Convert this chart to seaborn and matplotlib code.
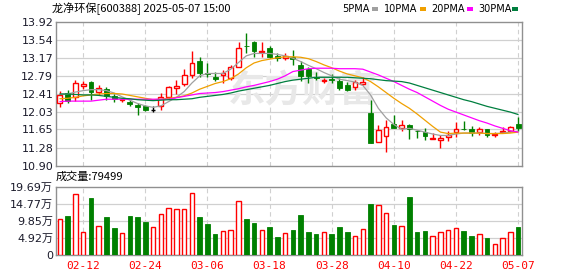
import numpy as np
import pandas as pd
import matplotlib
matplotlib.use("Agg")
import matplotlib.pyplot as plt
import seaborn as sns

# ---------------- data ----------------
dates = ["02-12", "02-24", "03-06", "03-18", "03-28", "04-10", "04-22", "05-07"]
date_idx = [3, 11, 19, 27, 35, 43, 51, 59]

opens = [12.208, 12.417, 12.327, 12.577, 12.654, 12.438, 12.494, 12.354, 12.278, 12.236,
         12.174, 12.153, 12.069, 12.153, 12.334, 12.528, 12.605, 12.793, 13.092, 12.835,
         12.758, 12.793, 12.730, 12.974, 13.410, 13.488, 13.273, 13.370, 13.203, 13.162,
         13.168, 13.008, 12.918, 12.751, 12.675, 12.716, 12.681, 12.591, 12.542, 12.612,
         12.000, 11.394, 11.520, 11.763, 11.680, 11.756, 11.631, 11.610, 11.464, 11.429,
         11.499, 11.603, 11.673, 11.673, 11.596, 11.673, 11.534, 11.610, 11.624, 11.777]
highs = [12.466, 12.480, 12.688, 12.675, 12.670, 12.584, 12.549, 12.403, 12.300, 12.278,
         12.208, 12.174, 12.139, 12.417, 12.570, 12.695, 12.925, 13.300, 13.175, 13.057,
         12.862, 12.904, 13.010, 13.488, 13.670, 13.510, 13.488, 13.405, 13.252, 13.252,
         13.320, 13.099, 12.974, 12.855, 12.730, 12.814, 12.730, 12.654, 12.695, 12.751,
         12.278, 11.750, 11.860, 11.960, 11.846, 11.777, 11.652, 11.680, 11.582, 11.534,
         11.617, 11.818, 11.840, 11.735, 11.707, 11.673, 11.603, 11.700, 11.735, 11.909]
lows = [12.118, 12.208, 12.257, 12.514, 12.278, 12.382, 12.264, 12.222, 12.222, 12.139,
        11.951, 12.034, 12.014, 12.069, 12.292, 12.403, 12.577, 12.730, 12.765, 12.765,
        12.675, 12.640, 12.695, 12.960, 13.252, 13.168, 13.180, 13.147, 13.099, 13.120,
        13.000, 12.675, 12.640, 12.695, 12.626, 12.626, 12.487, 12.452, 12.487, 12.584,
        11.373, 11.394, 11.180, 11.680, 11.617, 11.457, 11.478, 11.429, 11.464, 11.276,
        11.422, 11.499, 11.652, 11.513, 11.547, 11.499, 11.499, 11.590, 11.610, 11.631]
closes = [12.375, 12.250, 12.626, 12.612, 12.431, 12.535, 12.361, 12.292, 12.292, 12.180,
          12.118, 12.069, 12.069, 12.347, 12.542, 12.577, 12.800, 13.043, 12.848, 12.814,
          12.723, 12.835, 12.960, 13.356, 13.398, 13.300, 13.300, 13.168, 13.147, 13.196,
          13.127, 12.786, 12.786, 12.730, 12.695, 12.695, 12.535, 12.487, 12.654, 12.654,
          11.373, 11.645, 11.707, 11.680, 11.742, 11.673, 11.617, 11.513, 11.478, 11.485,
          11.547, 11.673, 11.659, 11.589, 11.673, 11.547, 11.561, 11.617, 11.714, 11.680]

ma5 = [12.39, 12.40, 12.44, 12.47, 12.49, 12.49, 12.47, 12.42, 12.34, 12.27,
       12.20, 12.15, 12.12, 12.15, 12.24, 12.33, 12.45, 12.63, 12.78, 12.83,
       12.83, 12.83, 12.92, 13.06, 13.20, 13.25, 13.25, 13.25, 13.23, 13.20,
       13.15, 13.08, 13.00, 12.93, 12.85, 12.78, 12.71, 12.68, 12.65, 12.58,
       12.38, 12.10, 11.90, 11.76, 11.66, 11.68, 11.64, 11.60, 11.56, 11.53,
       11.53, 11.56, 11.58, 11.58, 11.58, 11.57, 11.57, 11.58, 11.60, 11.62]
ma10 = [12.30, 12.31, 12.33, 12.36, 12.38, 12.40, 12.41, 12.41, 12.40, 12.37,
        12.34, 12.31, 12.28, 12.29, 12.31, 12.33, 12.36, 12.42, 12.50, 12.56,
        12.62, 12.66, 12.72, 12.82, 12.95, 13.05, 13.10, 13.13, 13.16, 13.18,
        13.18, 13.17, 13.14, 13.08, 13.01, 12.95, 12.88, 12.82, 12.78, 12.74,
        12.66, 12.55, 12.43, 12.31, 12.20, 12.10, 11.98, 11.85, 11.72, 11.60,
        11.57, 11.58, 11.58, 11.58, 11.58, 11.57, 11.57, 11.57, 11.58, 11.60]
ma20 = [12.24, 12.25, 12.25, 12.25, 12.25, 12.27, 12.29, 12.29, 12.29, 12.29,
        12.29, 12.29, 12.29, 12.29, 12.29, 12.32, 12.35, 12.38, 12.41, 12.42,
        12.43, 12.45, 12.48, 12.51, 12.55, 12.58, 12.62, 12.66, 12.71, 12.78,
        12.87, 12.90, 12.93, 12.94, 12.94, 12.94, 12.93, 12.93, 12.93, 12.92,
        12.86, 12.80, 12.73, 12.66, 12.58, 12.50, 12.43, 12.34, 12.25, 12.16,
        12.08, 12.02, 11.96, 11.90, 11.84, 11.79, 11.73, 11.68, 11.63, 11.60]
ma30 = [12.40, 12.40, 12.39, 12.38, 12.38, 12.37, 12.35, 12.33, 12.31, 12.30,
        12.28, 12.27, 12.26, 12.27, 12.28, 12.28, 12.29, 12.30, 12.33, 12.35,
        12.37, 12.39, 12.42, 12.46, 12.49, 12.52, 12.55, 12.58, 12.62, 12.66,
        12.69, 12.71, 12.73, 12.75, 12.75, 12.75, 12.75, 12.75, 12.74, 12.73,
        12.72, 12.70, 12.68, 12.67, 12.66, 12.63, 12.58, 12.53, 12.48, 12.43,
        12.38, 12.33, 12.28, 12.24, 12.19, 12.14, 12.10, 12.06, 12.02, 11.97]

volumes = [10.3, 11.25, 17.6, 6.75, 16.3, 8.4, 11.0, 7.9, 6.4, 11.25,
           11.0, 9.6, 8.1, 11.7, 13.4, 13.1, 13.1, 17.9, 11.0, 8.8,
           5.9, 6.9, 7.2, 15.65, 10.3, 9.3, 7.2, 8.15, 5.1, 6.2,
           7.3, 11.5, 6.65, 5.9, 6.5, 5.9, 8.15, 6.5, 5.6, 7.6,
           14.6, 14.25, 12.0, 8.7, 8.35, 16.6, 6.5, 7.0, 5.6, 6.65,
           7.2, 7.8, 7.0, 5.35, 6.1, 4.8, 3.3, 5.0, 6.65, 7.9499]

price_ticks = ["10.90", "11.28", "11.65", "12.03", "12.41", "12.79", "13.17", "13.54", "13.92"]
vol_ticks = ["0", "4.92万", "9.85万", "14.77万", "19.69万"]
ma_names = ["5PMA", "10PMA", "20PMA", "30PMA"]
ma_colors = ["#a0a0a0", "#f0a000", "#ff00ff", "#007f3f"]

RED = "#ff0000"
GREEN = "#008000"
GRID = "#d0d0d0"
FRAME = "#909090"

# ---------------- figure ----------------
sns.set_theme(style="white")
plt.rcParams["font.family"] = ["DejaVu Sans"]

W, H = 578, 276
fig = plt.figure(figsize=(W / 100, H / 100), dpi=100)
L, R = 56, 522
ax = fig.add_axes([L / W, 1 - 165.5 / H, (R - L) / W, 144 / H])
axv = fig.add_axes([L / W, 1 - 255 / H, (R - L) / W, 68.5 / H])

n = len(opens)
x = np.arange(n)
o = np.array(opens); c = np.array(closes); h = np.array(highs); lo = np.array(lows)
up = c > o
dn = c < o
flat = c == o

ymin, ymax = float(price_ticks[0]), float(price_ticks[-1])
yt = np.linspace(ymin, ymax, len(price_ticks))

for a in (ax, axv):
    a.set_xlim(-0.5, n - 0.5)
    for s in a.spines.values():
        s.set_color(FRAME)
        s.set_linewidth(1.0)
    a.tick_params(length=0, pad=2)
    for i in date_idx:
        a.axvline(i, color=GRID, lw=0.8, ls=(0, (4, 3)), zorder=0)

ax.set_ylim(ymin, ymax)
ax.set_yticks(yt)
ax.set_yticklabels(price_ticks, fontsize=8, color="#1a1a2a")
for v in yt[1:-1]:
    ax.axhline(v, color=GRID, lw=0.9, zorder=0)
ax.set_xticks([])

# watermark
ax.text(0.53, 0.52, "东方财富", transform=ax.transAxes, ha="center", va="center",
        fontsize=27, fontweight="bold", color="#e8e8e8", family=["Noto Sans CJK SC"],
        fontstyle="italic", zorder=0.5)

# wicks
wick_col = np.where(up, RED, np.where(dn, GREEN, "black"))
ax.vlines(x, lo, h, colors=list(wick_col), lw=1.0, zorder=2)
# bodies
bw = 0.62
ax.bar(x[up], (c - o)[up], bottom=o[up], width=bw, facecolor="white", edgecolor=RED,
       linewidth=1.0, zorder=3)
ax.bar(x[dn], (o - c)[dn], bottom=c[dn], width=bw, facecolor=GREEN, edgecolor=GREEN,
       linewidth=0.6, zorder=3)
ax.hlines(c[flat], x[flat] - bw / 2, x[flat] + bw / 2, colors="black", lw=1.0, zorder=3)

# moving averages
ma_df = pd.DataFrame({"x": np.tile(x, 4),
                      "v": np.concatenate([ma5, ma10, ma20, ma30]),
                      "ma": np.repeat(ma_names, n)})
sns.lineplot(data=ma_df, x="x", y="v", hue="ma", palette=dict(zip(ma_names, ma_colors)),
             ax=ax, legend=False, lw=0.9, zorder=4)
ax.set_xlabel(""); ax.set_ylabel("")

# volume
vmax = float(vol_ticks[-1].replace("万", ""))
axv.set_ylim(0, vmax)
vt = np.linspace(0, vmax, len(vol_ticks))
axv.set_yticks(vt)
axv.set_yticklabels(vol_ticks, fontsize=8, color="#1a1a2a", family=["DejaVu Sans", "Noto Sans CJK SC"])
for v in vt[1:-1]:
    axv.axhline(v, color=GRID, lw=0.9, zorder=0)
vol = np.array(volumes)
vup = c >= o
axv.bar(x[vup], vol[vup], width=0.58, facecolor="white", edgecolor=RED, linewidth=1.0, zorder=3)
axv.bar(x[~vup], vol[~vup], width=0.58, facecolor=GREEN, edgecolor=GREEN, linewidth=0.6, zorder=3)
axv.set_xticks(date_idx)
axv.set_xticklabels(dates, fontsize=8, color=RED, family="DejaVu Sans Mono")
axv.tick_params(axis="x", pad=4)

# texts
fig.text(52 / W, 1 - 9 / H, "龙净环保[600388] 2025-05-07 15:00", ha="left", va="center",
         fontsize=8, color="black", family=["Noto Sans CJK SC", "DejaVu Sans"])
fig.text(56 / W, 1 - 177 / H, "成交量:79499", ha="left", va="center",
         fontsize=8, color="black", family=["Noto Sans CJK SC", "DejaVu Sans"])

leg_x = [342, 384, 431, 478]
sq_x = [372, 420, 467, 512]
for nm, col, lx, sx in zip(ma_names, ma_colors, leg_x, sq_x):
    fig.text(lx / W, 1 - 9 / H, nm, ha="left", va="center", fontsize=7, color="black",
             family="DejaVu Sans")
    fig.patches.append(matplotlib.patches.Rectangle(((sx) / W, 1 - 11 / H), 6 / W, 4 / H,
                       transform=fig.transFigure, facecolor=col, edgecolor="none"))

fig.savefig("out.png", dpi=100)
